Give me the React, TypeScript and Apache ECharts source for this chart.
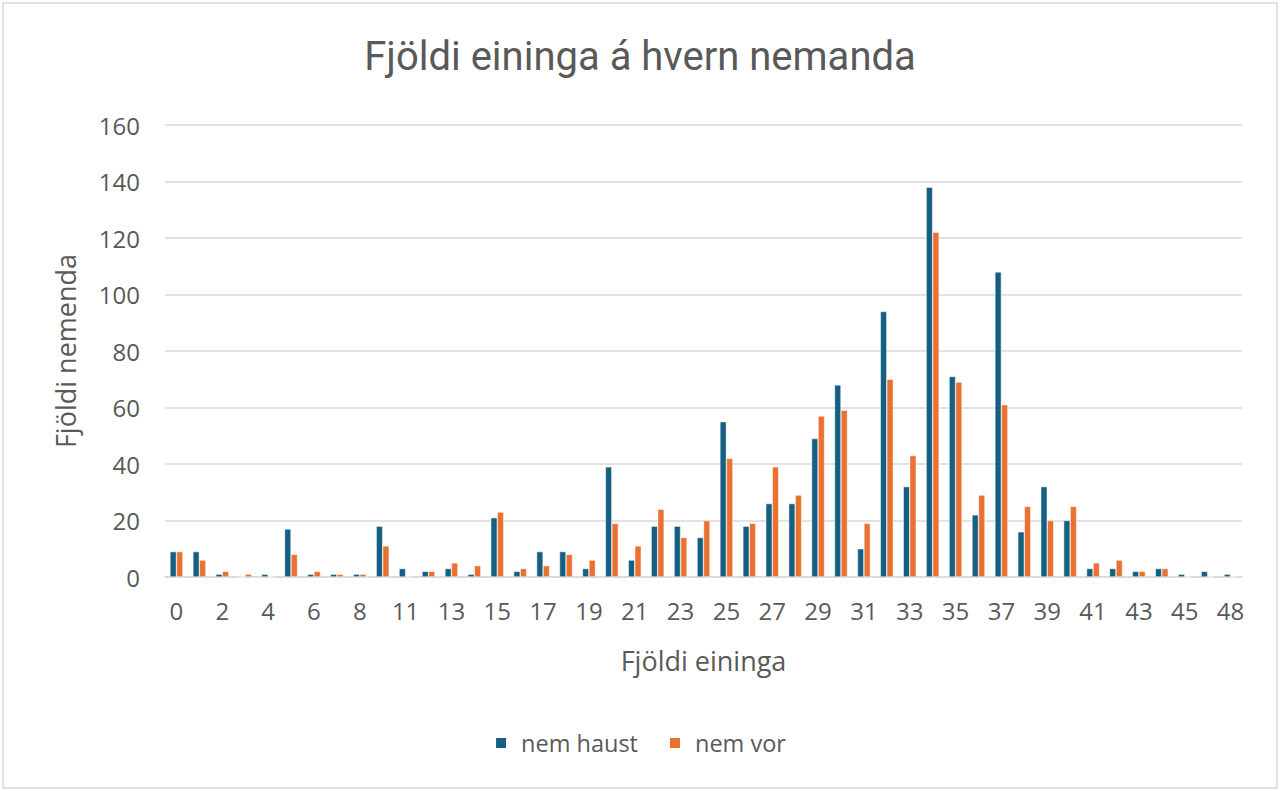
import React, { useEffect, useRef } from "react";
import * as echarts from "echarts";

const categories = ["0","1","2","3","4","5","6","7","8","10","11","12","13","14","15","16","17","18","19","20","21","22","23","24","25","26","27","28","29","30","31","32","33","34","35","36","37","38","39","40","41","42","43","44","45","46","48"];
const haust = [9,9,1,0,1,17,1,1,1,18,3,2,3,1,21,2,9,9,3,39,6,18,18,14,55,18,26,26,49,68,10,94,32,138,71,22,108,16,32,20,3,3,2,3,1,2,1];
const vor = [9,6,2,1,0,8,2,1,1,11,0,2,5,4,23,3,4,8,6,19,11,24,14,20,42,19,39,29,57,59,19,70,43,122,69,29,61,25,20,25,5,6,2,3,0,0,0];
const yTicks = { min: 0, max: 160, interval: 20 };

export default function App() {
  const ref = useRef<HTMLDivElement>(null);
  useEffect(() => {
    const chart = echarts.init(ref.current!, null, { renderer: "svg" });
    const font = "'Open Sans', sans-serif";
    chart.setOption({
      animation: false,
      backgroundColor: "#ffffff",
      textStyle: { fontFamily: font },
      title: {
        text: "Fjöldi eininga á hvern nemanda",
        left: "center",
        top: 31,
        textStyle: { fontFamily: "Roboto, sans-serif", fontSize: 40, fontWeight: "normal", color: "#595959" },
      },
      graphic: [
        { type: "rect", shape: { x: 3, y: 3, width: 1274, height: 785 }, style: { fill: "none", stroke: "#d9d9d9", lineWidth: 1.5 } },
      ],
      legend: {
        bottom: 31,
        left: "center",
        itemWidth: 12,
        itemHeight: 12,
        itemGap: 30,
        icon: "rect",
        textStyle: { fontSize: 23.5, color: "#595959", fontFamily: font, padding: [0, 0, 0, 9] },
        data: ["nem haust", "nem vor"],
      },
      grid: { left: 165, right: 38, top: 125, bottom: 214, containLabel: false },
      xAxis: {
        type: "category",
        data: categories,
        name: "Fjöldi eininga",
        nameLocation: "middle",
        nameGap: 70,
        nameTextStyle: { fontSize: 27, color: "#595959", fontFamily: font },
        axisLine: { lineStyle: { color: "#d9d9d9", width: 1.5 } },
        axisTick: { show: false },
        axisLabel: { interval: 1, fontSize: 24, color: "#595959", margin: 21, fontFamily: font },
      },
      yAxis: {
        type: "value",
        min: yTicks.min,
        max: yTicks.max,
        interval: yTicks.interval,
        name: "Fjöldi nemenda",
        nameLocation: "middle",
        nameGap: 86,
        nameTextStyle: { fontSize: 27, color: "#595959", fontFamily: font },
        axisLine: { show: false },
        axisTick: { show: false },
        axisLabel: { fontSize: 24, color: "#595959", margin: 25, fontFamily: font },
        splitLine: { lineStyle: { color: "#d9d9d9", width: 1.5 } },
      },
      series: [
        { name: "nem haust", type: "bar", data: haust, barWidth: 6.5, barGap: "0%", itemStyle: { color: "#156082", borderColor: "#ffffff", borderWidth: 0.5 } },
        { name: "nem vor", type: "bar", data: vor, barWidth: 6.5, barGap: "0%", itemStyle: { color: "#E97132", borderColor: "#ffffff", borderWidth: 0.5 } },
      ],
    });
    return () => chart.dispose();
  }, []);
  return <div ref={ref} style={{ position: "fixed", left: 0, top: 0, width: 1280, height: 791 }} />;
}
